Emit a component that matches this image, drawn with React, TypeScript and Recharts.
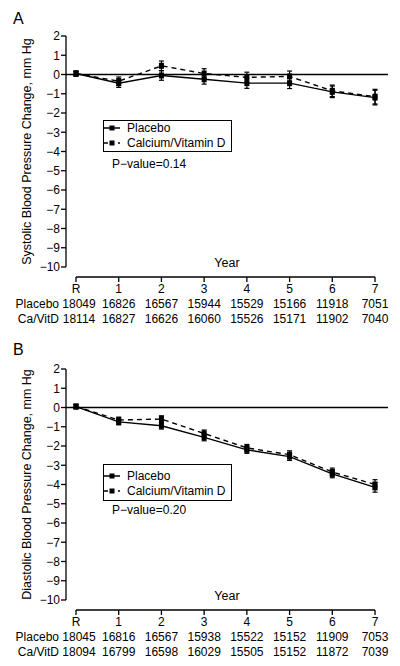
import React from 'react';
import { ComposedChart, Line, XAxis, YAxis, ReferenceLine, ErrorBar, Legend } from 'recharts';

const FONT = '"Liberation Sans", Arial, Helvetica, sans-serif';

// ---------- data ----------
const years = ['R', '1', '2', '3', '4', '5', '6', '7'];
const xPos = [0, 1, 2, 3, 4, 5, 6, 7];
const yTicks = [2, 1, 0, -1, -2, -3, -4, -5, -6, -7, -8, -9, -10];

const sysPlacebo = [0.05, -0.45, -0.05, -0.25, -0.45, -0.45, -0.9, -1.2];
const sysCaD = [0.05, -0.35, 0.45, 0.05, -0.15, -0.1, -0.85, -1.15];
const sysPlaceboErr = [0.12, 0.22, 0.25, 0.25, 0.27, 0.28, 0.3, 0.38];
const sysCaDErr = [0.12, 0.22, 0.25, 0.25, 0.27, 0.28, 0.3, 0.38];

const diaPlacebo = [0.05, -0.75, -0.95, -1.55, -2.2, -2.55, -3.45, -4.15];
const diaCaD = [0.05, -0.65, -0.6, -1.35, -2.1, -2.45, -3.35, -4.0];
const diaPlaceboErr = [0.1, 0.15, 0.17, 0.18, 0.18, 0.2, 0.2, 0.25];
const diaCaDErr = [0.1, 0.15, 0.17, 0.18, 0.18, 0.2, 0.2, 0.25];

const sysNPlacebo = [18049, 16826, 16567, 15944, 15529, 15166, 11918, 7051];
const sysNCaD = [18114, 16827, 16626, 16060, 15526, 15171, 11902, 7040];
const diaNPlacebo = [18045, 16816, 16567, 15938, 15522, 15152, 11909, 7053];
const diaNCaD = [18094, 16799, 16598, 16029, 15505, 15152, 11872, 7039];

const seriesNames = ['Placebo', 'Calcium/Vitamin D'];
const rowNames = ['Placebo', 'Ca/VitD'];

const X_DOMAIN: [number, number] = [-0.234, 7.304];
const Y_DOMAIN: [number, number] = [-10.52, 2];

const fmtMinus = (v: number) => (v < 0 ? '\u2212' + Math.abs(v) : String(v));

const buildRows = (p: number[], c: number[], pe: number[], ce: number[]) =>
  xPos.map((x, i) => ({ x, placebo: p[i], cad: c[i], placeboErr: pe[i], cadErr: ce[i] }));

const renderDot = (props: any) => {
  const { cx, cy, index } = props;
  if (cx == null || cy == null) return <g key={index} />;
  return <rect key={index} x={cx - 2.5} y={cy - 3} width={5} height={6} fill="#000" />;
};

const makeXTick = (nP: number[], nC: number[]) => (props: any) => {
  const { x, y, payload } = props;
  const i = xPos.indexOf(payload.value);
  const common = { fontFamily: FONT, fontSize: 12, fill: '#000' } as any;
  const nx = i === 0 ? x + 3 : x;
  return (
    <g>
      <text x={x} y={y + 9} textAnchor="middle" {...common}>{years[i]}</text>
      <text x={nx} y={y + 24} textAnchor="middle" {...common}>{nP[i]}</text>
      <text x={nx} y={y + 39} textAnchor="middle" {...common}>{nC[i]}</text>
      {i === 0 && (
        <>
          <text x={x - 17} y={y + 24} textAnchor="end" {...common}>{rowNames[0]}</text>
          <text x={x - 17} y={y + 39} textAnchor="end" {...common}>{rowNames[1]}</text>
        </>
      )}
    </g>
  );
};

type LegendCfg = { top: number; boxH: number; rowY: number[]; pY: number; pText: string };

const LegendBox = ({ cfg }: { cfg: LegendCfg }) => (
  <div style={{ position: 'relative', width: 129, height: cfg.pY + 10, fontFamily: FONT, fontSize: 12, color: '#000' }}>
    <div
      style={{
        position: 'absolute', left: 0, top: 0, width: 129, height: cfg.boxH,
        border: '1.3px solid #000', boxSizing: 'border-box', background: '#fff',
      }}
    />
    {seriesNames.map((name, i) => (
      <div key={name} style={{ position: 'absolute', left: 0, top: cfg.rowY[i] - 7, height: 14, width: 129 }}>
        <svg width={22} height={14} style={{ position: 'absolute', left: 0, top: 0 }}>
          {i === 0 ? (
            <line x1={0} y1={7} x2={17} y2={7} stroke="#000" strokeWidth={1.5} />
          ) : (
            <line x1={0} y1={7} x2={17} y2={7} stroke="#000" strokeWidth={1.5} strokeDasharray="5 10 2" />
          )}
          <rect x={6.5} y={4.5} width={5} height={5} fill="#000" />
        </svg>
        <span style={{ position: 'absolute', left: 24, top: 0, lineHeight: '14px', whiteSpace: 'nowrap' }}>{name}</span>
      </div>
    ))}
    <span style={{ position: 'absolute', left: 9, top: cfg.pY - 7, lineHeight: '14px', whiteSpace: 'nowrap' }}>{cfg.pText}</span>
  </div>
);

type PanelProps = {
  letter: string;
  yLabel: string;
  rows: any[];
  nP: number[];
  nC: number[];
  legend: LegendCfg;
  letterY: number;
};

const Panel = ({ letter, yLabel, rows, nP, nC, legend, letterY }: PanelProps) => (
  <div style={{ position: 'relative', width: 400, height: 333 }}>
    <div style={{ position: 'absolute', left: 13, top: letterY, fontFamily: FONT, fontSize: 16, lineHeight: '16px', zIndex: 2 }}>{letter}</div>
    <ComposedChart width={400} height={333} data={rows} margin={{ top: 36, right: 12, bottom: 0, left: 0 }}>
      <XAxis
        type="number"
        dataKey="x"
        domain={X_DOMAIN}
        ticks={xPos}
        allowDataOverflow
        axisLine={false}
        tickLine={{ stroke: '#000', strokeWidth: 1.3 }}
        tickSize={5}
        tickMargin={2}
        height={56}
        interval={0}
        tick={makeXTick(nP, nC)}
        label={{
          content: (p: any) => {
            const vb = p.viewBox || {};
            return (
              <text x={vb.x + vb.width / 2} y={vb.y - 10} textAnchor="middle" fontFamily={FONT} fontSize={12.5} fill="#000">Year</text>
            );
          },
        }}
      />
      <YAxis
        type="number"
        domain={Y_DOMAIN}
        ticks={yTicks}
        allowDataOverflow
        width={66}
        axisLine={false}
        tickLine={{ stroke: '#000', strokeWidth: 1.3 }}
        tickSize={5}
        tickMargin={1}
        tickFormatter={fmtMinus}
        tick={{ fontFamily: FONT, fontSize: 12, fill: '#000' }}
        interval={0}
        label={{
          content: () => {
            const cx = 27;
            const cy = 151.5;
            return (
              <text x={cx} y={cy} transform={`rotate(-90, ${cx}, ${cy})`} textAnchor="middle" dominantBaseline="central" fontFamily={FONT} fontSize={12.5} fill="#000">{yLabel}</text>
            );
          },
        }}
      />
      <ReferenceLine segment={[{ x: X_DOMAIN[0], y: yTicks[yTicks.length - 1] }, { x: X_DOMAIN[0], y: yTicks[0] }]} stroke="#000" strokeWidth={1.3} />
      <ReferenceLine segment={[{ x: xPos[0], y: Y_DOMAIN[0] }, { x: xPos[xPos.length - 1], y: Y_DOMAIN[0] }]} stroke="#000" strokeWidth={1.3} />
      <ReferenceLine y={0} stroke="#000" strokeWidth={1.4} />
      <Line
        dataKey="cad"
        name={seriesNames[1]}
        stroke="#000"
        strokeWidth={1.4}
        strokeDasharray="5 4"
        dot={renderDot}
        activeDot={false}
        isAnimationActive={false}
        legendType="none"
      >
        <ErrorBar dataKey="cadErr" direction="y" width={2.5} stroke="#000" strokeWidth={1.2} isAnimationActive={false} />
      </Line>
      <Line
        dataKey="placebo"
        name={seriesNames[0]}
        stroke="#000"
        strokeWidth={1.4}
        dot={renderDot}
        activeDot={false}
        isAnimationActive={false}
        legendType="none"
      >
        <ErrorBar dataKey="placeboErr" direction="y" width={2.5} stroke="#000" strokeWidth={1.2} isAnimationActive={false} />
      </Line>
      <Legend
        layout="horizontal"
        verticalAlign="middle"
        align="center"
        wrapperStyle={{ position: 'absolute', left: 103, top: legend.top, width: 129, height: legend.pY + 10, margin: 0, padding: 0 }}
        content={() => <LegendBox cfg={legend} />}
      />
    </ComposedChart>
  </div>
);

export default function App() {
  const sysRows = buildRows(sysPlacebo, sysCaD, sysPlaceboErr, sysCaDErr);
  const diaRows = buildRows(diaPlacebo, diaCaD, diaPlaceboErr, diaCaDErr);
  return (
    <div style={{ width: 400, height: 666, background: '#fff', position: 'relative' }}>
      <style>{`body{margin:0;background:#fff}`}</style>
      <Panel
        letter="A"
        yLabel="Systolic Blood Pressure Change, mm Hg"
        rows={sysRows}
        nP={sysNPlacebo}
        nC={sysNCaD}
        letterY={11}
        legend={{ top: 120, boxH: 32, rowY: [8, 23], pY: 44, pText: 'P\u2212value=0.14' }}
      />
      <Panel
        letter="B"
        yLabel="Diastolic Blood Pressure Change, mm Hg"
        rows={diaRows}
        nP={diaNPlacebo}
        nC={diaNCaD}
        letterY={9}
        legend={{ top: 131, boxH: 37, rowY: [11.5, 27], pY: 46, pText: 'P\u2212value=0.20' }}
      />
    </div>
  );
}
